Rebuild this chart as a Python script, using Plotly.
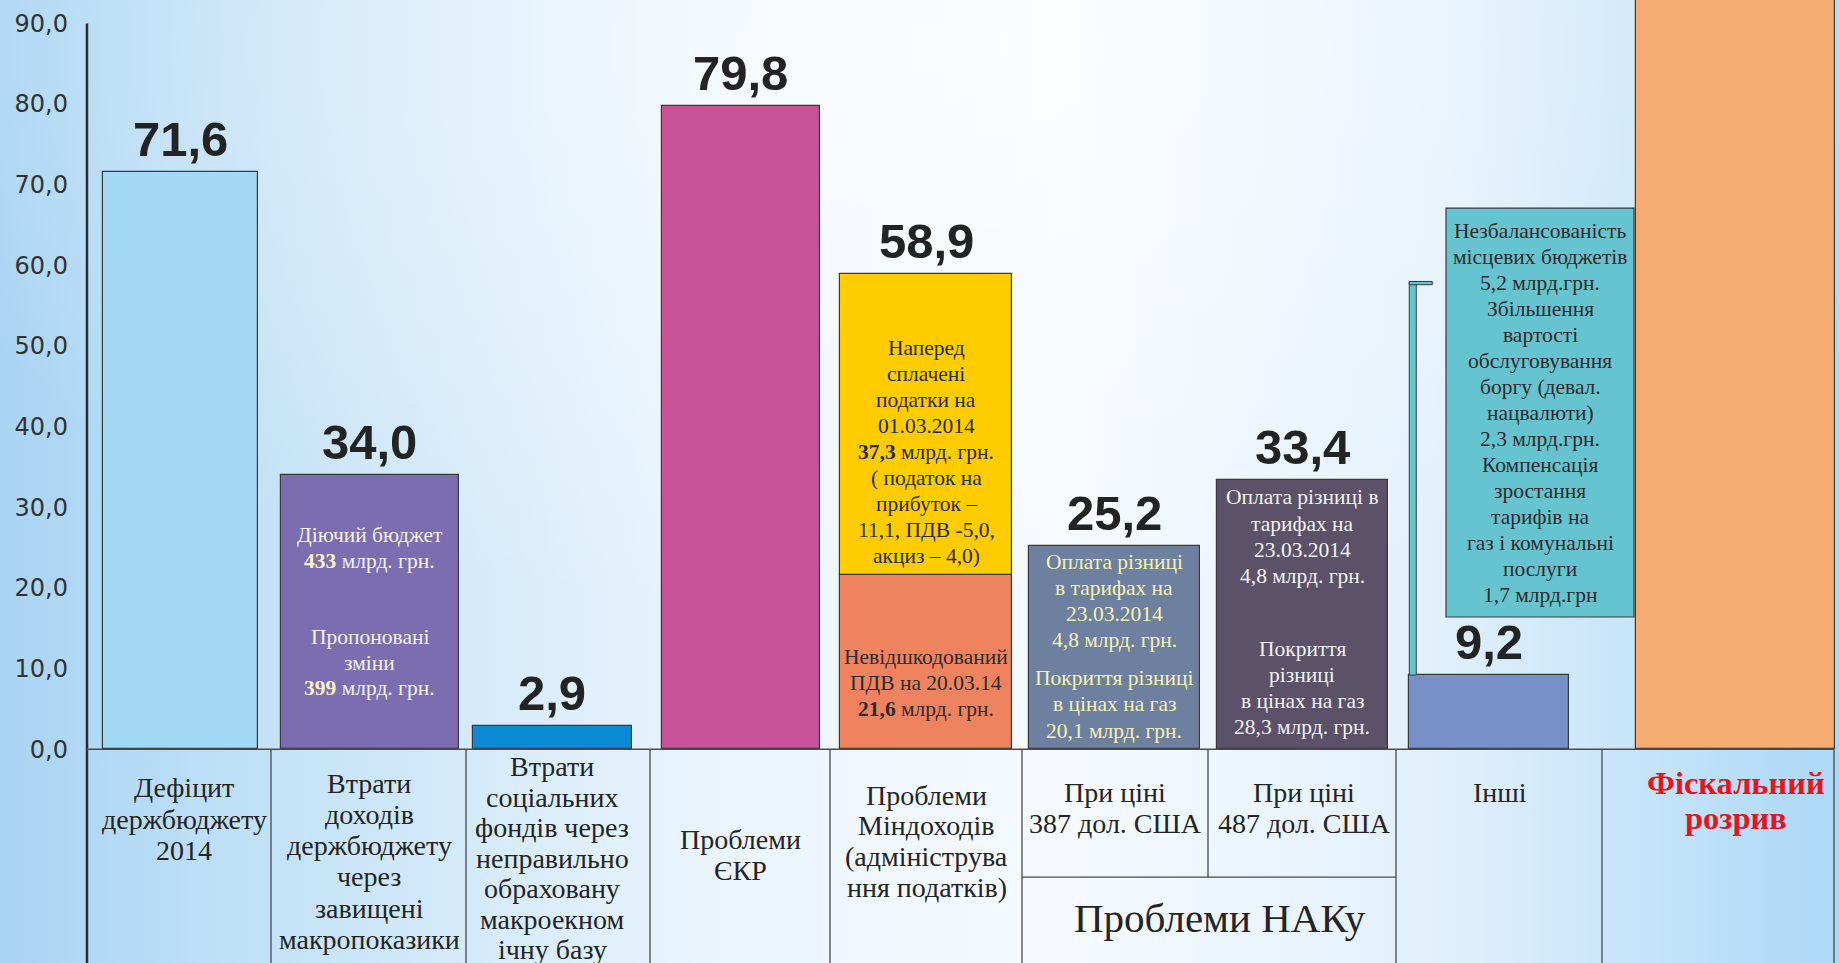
import base64
import plotly.graph_objects as go

# ---------------- data ----------------
categories = [
    "Дефіцит держбюджету 2014",
    "Втрати доходів держбюджету через завищені макропоказики",
    "Втрати соціальних фондів через неправильно обраховану макроекномічну базу",
    "Проблеми ЄКР",
    "Проблеми Міндоходів (адміністрування податків)",
    "При ціні 387 дол. США",
    "При ціні 487 дол. США",
    "Інші",
    "Фіскальний розрив",
]
# first segment of each bar (for Міндоходів: невідшкодований ПДВ)
values = [71.6, 34.0, 2.9, 79.8, 21.6, 25.2, 33.4, 9.2, 281.6]
# second segment of the Міндоходів bar: наперед сплачені податки
mindohodiv_top = 37.3
value_labels = ["71,6", "34,0", "2,9", "79,8", "58,9", "25,2", "33,4", "9,2", ""]
y_ticks = [0, 10, 20, 30, 40, 50, 60, 70, 80, 90]
y_tick_text = ["0,0", "10,0", "20,0", "30,0", "40,0", "50,0", "60,0", "70,0", "80,0", "90,0"]

# ---------------- layout / style ----------------
bar_x = [93.6, 282.5, 465.4, 653.6, 839, 1027, 1215, 1402, 1648]
bar_w = [155, 178, 159.5, 158, 172, 171, 171, 159.5, 199]
bar_colors = ["#a4d9f5", "#7b6daf", "#0b8bd3", "#c95398", "#f0835f",
              "#6d809f", "#5b5168", "#7890c8", "#f4ac70"]
top_color = "#ffcc00"
col_edges = [0, 184, 379, 563, 743, 935, 1121, 1309, 1515, 1747]
Y_MIN, Y_MAX = -26.5, 92.9
SERIF = "Liberation Serif"
OUT = "#3a3a3a"

fig = go.Figure()
fig.add_trace(go.Bar(
    x=bar_x, y=values, width=bar_w,
    marker=dict(color=bar_colors, line=dict(color=OUT, width=1.2)),
    hoverinfo="skip", showlegend=False,
))
fig.add_trace(go.Bar(
    x=[bar_x[4]], y=[mindohodiv_top], base=[values[4]], width=[bar_w[4]],
    marker=dict(color=top_color, line=dict(color=OUT, width=1.2)),
    hoverinfo="skip", showlegend=False,
))

shapes = []
# callout bracket for "Інші"
i8 = 7
bl = bar_x[i8] - bar_w[i8] / 2
shapes.append(dict(type="rect", xref="x", yref="y", x0=bl, x1=bl + 7, y0=values[i8], y1=58.0,
                   fillcolor="#66c3d0", line=dict(color=OUT, width=1), layer="above"))
shapes.append(dict(type="rect", xref="x", yref="y", x0=bl, x1=bl + 23, y0=57.6, y1=58.0,
                   fillcolor="#66c3d0", line=dict(color=OUT, width=1), layer="above"))
# callout box
shapes.append(dict(type="rect", xref="x", yref="y", x0=1359, x1=1547, y0=16.4, y1=67.1,
                   fillcolor="#66c3d0", line=dict(color=OUT, width=1.2), layer="above"))
# y axis line
shapes.append(dict(type="line", xref="x", yref="y", x0=0, x1=0, y0=Y_MIN, y1=90,
                   line=dict(color="#2e2e2e", width=2.5), layer="above"))
# table
shapes.append(dict(type="line", xref="x", yref="y", x0=0, x1=col_edges[-1], y0=0, y1=0,
                   line=dict(color="#4a4a4a", width=1.3), layer="above"))
for e in col_edges[1:]:
    if e == 1121:
        continue
    shapes.append(dict(type="line", xref="x", yref="y", x0=e, x1=e, y0=0, y1=Y_MIN,
                       line=dict(color="#4a4a4a", width=1.3), layer="above"))
shapes.append(dict(type="line", xref="x", yref="y", x0=1121, x1=1121, y0=0, y1=-15.85,
                   line=dict(color="#4a4a4a", width=1.3), layer="above"))
shapes.append(dict(type="line", xref="x", yref="y", x0=935, x1=1309, y0=-15.85, y1=-15.85,
                   line=dict(color="#4a4a4a", width=1.3), layer="above"))

ann = []
# value labels above bars
totals = list(values)
totals[4] = values[4] + mindohodiv_top
for xi, t, lab in zip(bar_x, totals, value_labels):
    if lab:
        ann.append(dict(x=xi, y=t, text="<b>" + lab + "</b>", showarrow=False,
                        yanchor="middle", yshift=33,
                        font=dict(family="Liberation Sans", size=49, color="#232323")))


def block(x, y_first, lines, size=21.5, spacing=26.0, color="#2b2b2b", bold=False):
    """Place each line of a text block separately with a fixed pixel spacing."""
    for i, line in enumerate(lines):
        t = "<b>" + line + "</b>" if bold else line
        ann.append(dict(x=x, y=y_first, yshift=-i * spacing, text=t, showarrow=False,
                        xanchor="center", yanchor="middle", align="center",
                        font=dict(family=SERIF, size=size, color=color)))


# inside-bar texts
W = "#f3f3f3"
NUM = "<b><span style='color:#fff3c4'>{}</span></b>"
block(282.5, 26.59, ["Діючий бюджет", NUM.format("433") + " млрд. грн."], color=W, spacing=25.8)
block(282.5, 13.95, ["Пропоновані", "зміни", NUM.format("399") + " млрд. грн."], color=W, spacing=25.8)
block(839, 49.70, ["Наперед", "сплачені", "податки на", "01.03.2014", "<b>37,3</b> млрд. грн.",
                   "( податок на", "прибуток –", "11,1, ПДВ -5,0,", "акциз – 4,0)"], spacing=25.9)
block(839, 11.48, ["Невідшкодований", "ПДВ на 20.03.14", "<b>21,6</b> млрд. грн."], spacing=26.4)
Y6 = "#f6f1b4"
block(1027, 23.25, ["Оплата різниці", "в тарифах на", "23.03.2014", "4,8 млрд. грн."], color=Y6, spacing=26.2)
block(1027, 8.86, ["Покриття різниці", "в цінах на газ", "20,1 млрд. грн."], color=Y6, spacing=26.4)
block(1215, 31.24, ["Оплата різниці в", "тарифах на", "23.03.2014", "4,8 млрд. грн."], color=W, spacing=26.2)
block(1215, 12.49, ["Покриття", "різниці", "в цінах на газ", "28,3 млрд. грн."], color=W, spacing=26.2)
block(1453, 64.23, ["Незбалансованість", "місцевих бюджетів", "5,2 млрд.грн.", "Збільшення",
                    "вартості", "обслуговування", "боргу (девал.", "нацвалюти)", "2,3 млрд.грн.",
                    "Компенсація", "зростання", "тарифів на", "газ і комунальні", "послуги",
                    "1,7 млрд.грн"], spacing=25.97)

# category labels in the table
C = "#242424"
block(97, -4.80, ["Дефіцит", "держбюджету", "2014"], size=28, spacing=31.1, color=C)
block(282, -4.21, ["Втрати", "доходів", "держбюджету", "через", "завищені", "макропоказики"],
      size=28, spacing=31.2, color=C)
block(465, -2.18, ["Втрати", "соціальних", "фондів через", "неправильно", "обраховану",
                   "макроекном", "ічну базу"], size=28, spacing=30.5, color=C)
block(653, -11.19, ["Проблеми", "ЄКР"], size=28, spacing=30.5, color=C)
block(839.5, -5.67, ["Проблеми", "Міндоходів", "(адмініструва", "ння податків)"],
      size=28, spacing=30.9, color=C)
block(1028, -5.38, ["При ціні", "387 дол. США"], size=28, spacing=30.5, color=C)
block(1217, -5.38, ["При ціні", "487 дол. США"], size=28, spacing=30.5, color=C)
block(1133, -20.9, ["Проблеми НАКу"], size=41, color=C)
block(1413, -5.38, ["Інші"], size=28, color=C)
block(1649, -4.21, ["Фіскальний", "розрив"], size=32.5, spacing=35.2, color="#e8131c", bold=True)

# background gradient (decorative)
svg = (
    '<svg xmlns="http://www.w3.org/2000/svg" width="1839" height="963" viewBox="0 0 1839 963" preserveAspectRatio="none">'
    '<defs>'
    '<linearGradient id="g" x1="0" y1="0" x2="1" y2="0">'
    '<stop offset="0" stop-color="#a9d4f3"/>'
    '<stop offset="0.18" stop-color="#c9e5f8"/>'
    '<stop offset="0.40" stop-color="#ecf5fd"/>'
    '<stop offset="0.58" stop-color="#f6fafe"/>'
    '<stop offset="0.78" stop-color="#e2f0fc"/>'
    '<stop offset="1" stop-color="#acd8f6"/>'
    '</linearGradient>'
    '<radialGradient id="r" cx="0.5" cy="0.05" r="0.6">'
    '<stop offset="0" stop-color="#ffffff" stop-opacity="0.6"/>'
    '<stop offset="1" stop-color="#ffffff" stop-opacity="0"/>'
    '</radialGradient>'
    '</defs>'
    '<rect x="0" y="0" width="1839" height="963" fill="url(#g)"/>'
    '<rect x="0" y="0" width="1839" height="963" fill="url(#r)"/>'
    '</svg>'
)
src = "data:image/svg+xml;base64," + base64.b64encode(svg.encode("utf-8")).decode("ascii")

L = 83
PW = 1839 - L
fig.update_layout(
    width=1839, height=963,
    margin=dict(l=L, r=0, t=0, b=0, pad=0),
    paper_bgcolor="#c3e2f8", plot_bgcolor="rgba(0,0,0,0)",
    barmode="overlay", bargap=0,
    shapes=shapes, annotations=ann,
    images=[dict(source=src, xref="paper", yref="paper", x=-L / PW, y=1,
                 sizex=1839 / PW, sizey=1, xanchor="left", yanchor="top",
                 sizing="stretch", layer="below")],
    xaxis=dict(range=[-4, PW - 4], visible=False, fixedrange=True),
    yaxis=dict(range=[Y_MIN, Y_MAX], tickvals=y_ticks, ticktext=y_tick_text,
               showgrid=False, zeroline=False, showline=False, ticks="",
               ticklabelstandoff=14,
               tickfont=dict(family="DejaVu Sans", size=24, color="#333333"),
               fixedrange=True),
    showlegend=False,
)

fig.write_html("out.html", config={"displayModeBar": False},
               post_script="document.body.style.margin='0';document.body.style.overflow='hidden';")
